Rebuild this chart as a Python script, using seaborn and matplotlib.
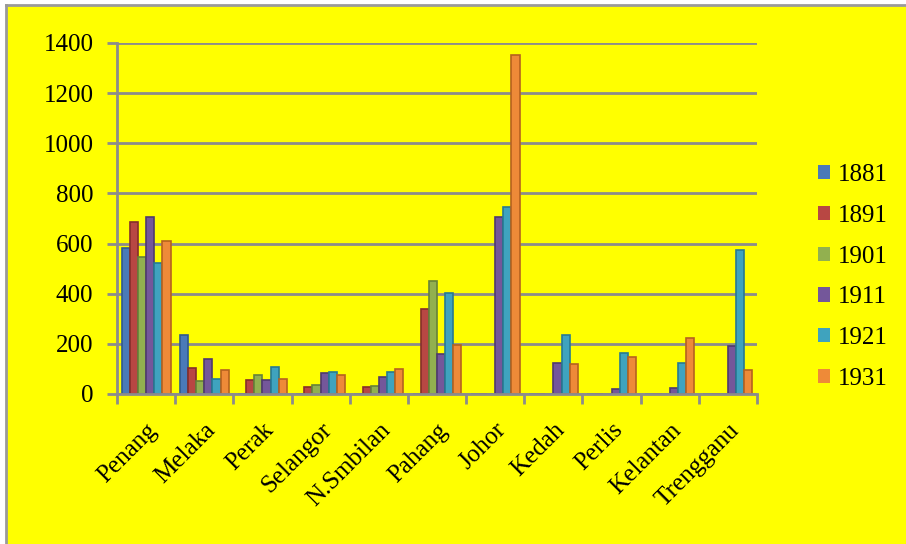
import pandas as pd
import numpy as np
import matplotlib
matplotlib.use('Agg')
import matplotlib.pyplot as plt
from matplotlib.patches import Rectangle
from matplotlib.lines import Line2D
import seaborn as sns

states = ['Penang', 'Melaka', 'Perak', 'Selangor', 'N.Smbilan', 'Pahang',
          'Johor', 'Kedah', 'Perlis', 'Kelantan', 'Trengganu']
years = ['1881', '1891', '1901', '1911', '1921', '1931']

v1881 = [582, 235, 0, 0, 0, 0, 0, 0, 0, 0, 0]
v1891 = [687, 104, 56, 29, 27, 338, 0, 0, 0, 0, 0]
v1901 = [548, 50, 76, 36, 33, 452, 0, 0, 0, 0, 0]
v1911 = [707, 140, 56, 84, 69, 158, 705, 125, 19, 23, 193]
v1921 = [524, 60, 108, 89, 86, 402, 745, 235, 162, 125, 574]
v1931 = [610, 96, 60, 76, 98, 194, 1352, 120, 149, 222, 96]

series = [v1881, v1891, v1901, v1911, v1921, v1931]
colors = ['#4A7AB8', '#B84743', '#92B04F', '#74579A', '#3FA3BE', '#EE8A38']
edges = ['#305A8C', '#852E2B', '#66823A', '#4F3A6E', '#277A92', '#B5621F']

rows = []
for yr, vals in zip(years, series):
    for st, v in zip(states, vals):
        rows.append({'state': st, 'year': yr, 'pop': v})
df = pd.DataFrame(rows)

yellow = '#FFFF00'
grid_gray = '#8C8C8C'
serif = 'Liberation Serif'

fig = plt.figure(figsize=(9.06, 5.44), dpi=100, facecolor='white')
fig.patches.append(Rectangle((6 / 906, 0), 1, 1 - 5 / 544,
                             transform=fig.transFigure, facecolor=yellow,
                             edgecolor='none', zorder=-10))
fig.add_artist(Line2D([6 / 906, 1], [1 - 5 / 544] * 2, color='#9A9A9A', lw=2))
fig.add_artist(Line2D([6 / 906] * 2, [0, 1 - 5 / 544], color='#9A9A9A', lw=2))

ax = fig.add_axes([117 / 906, 1 - 394 / 544, 640 / 906, 351 / 544])
ax.set_facecolor(yellow)

sns.barplot(data=df, x='state', y='pop', hue='year', palette=colors,
            width=0.84, ax=ax, saturation=1, legend=True)

# darker edges to hint the 3d shading
for i, cont in enumerate(ax.containers):
    for bar in cont:
        bar.set_edgecolor(edges[i])
        bar.set_linewidth(1.2)

ax.set_ylim(0, 1400)
ax.set_xlim(-0.5, len(states) - 0.5)
ax.set_yticks(np.arange(0, 1401, 200))
ax.yaxis.grid(True, color=grid_gray, lw=2)
ax.set_axisbelow(True)
ax.set_xlabel('')
ax.set_ylabel('')

for s in ['top', 'right']:
    ax.spines[s].set_visible(False)
for s in ['left', 'bottom']:
    ax.spines[s].set_color(grid_gray)
    ax.spines[s].set_linewidth(2)

ax.set_xticks(np.arange(len(states)))
ax.set_xticklabels(states, rotation=45, ha='right', rotation_mode='anchor',
                   family=serif, fontsize=18)
ax.set_xticks(np.arange(-0.5, len(states)), minor=True)
ax.tick_params(axis='x', which='major', length=0, pad=18)
ax.tick_params(axis='x', which='minor', length=7, width=2, color=grid_gray)
ax.tick_params(axis='y', length=7, width=2, color=grid_gray, pad=10)
for lab in ax.get_yticklabels():
    lab.set_family(serif)
    lab.set_fontsize(18)

leg = ax.legend(loc='center left', bbox_to_anchor=(795 / 906, 1 - 277 / 544),
                bbox_transform=fig.transFigure, frameon=False,
                prop={'family': serif, 'size': 18},
                handlelength=0.5, handleheight=0.5, handletextpad=0.3,
                labelspacing=0.75)
for h in leg.legend_handles:
    h.set_linewidth(0)

fig.savefig('out.png', dpi=100, facecolor=fig.get_facecolor())
